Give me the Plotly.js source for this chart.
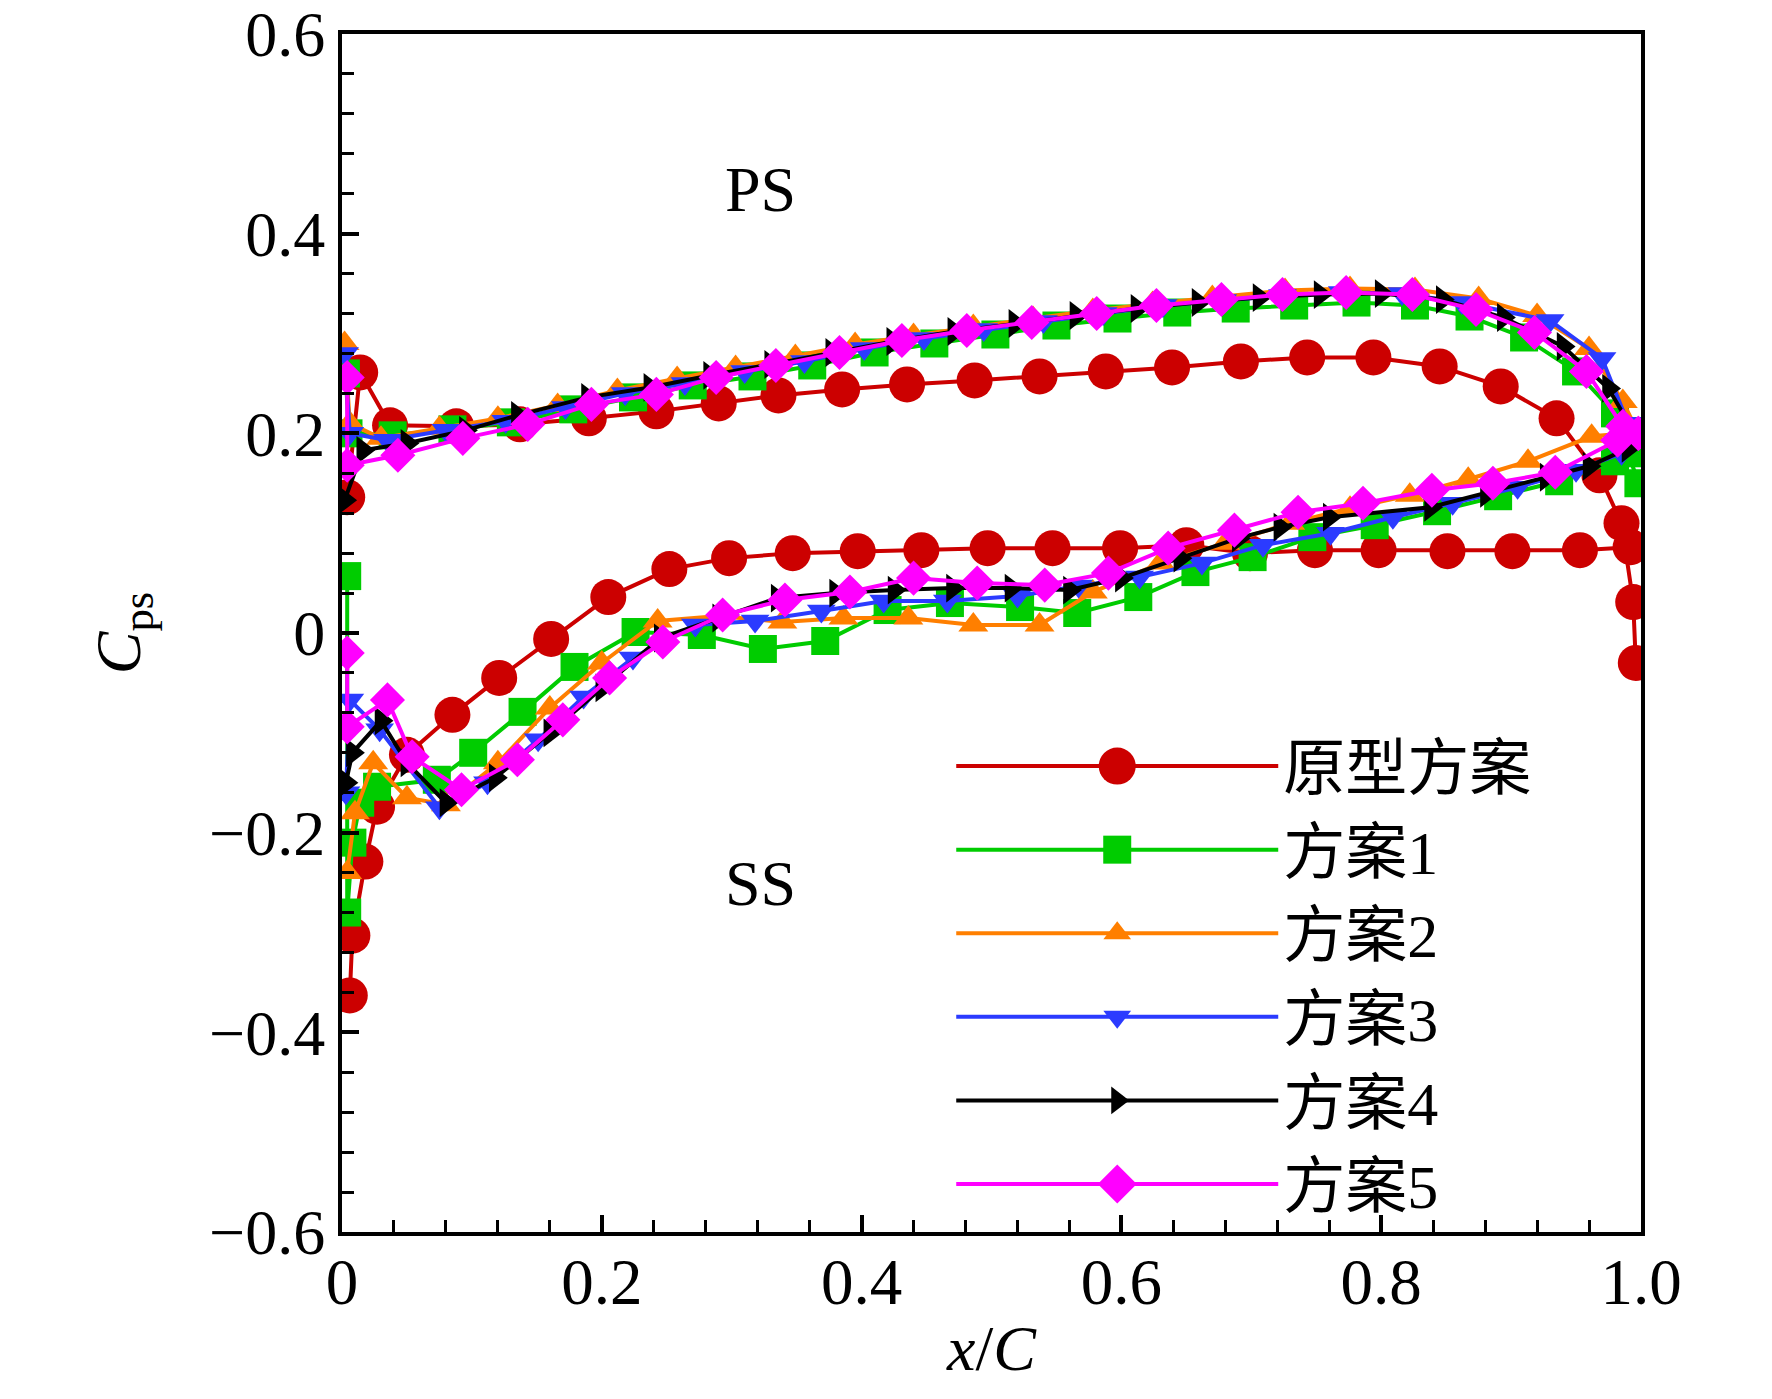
<!DOCTYPE html>
<html>
<head>
<meta charset="utf-8">
<script src="https://cdn.plot.ly/plotly-3.0.1.min.js"></script>
<style>html,body{margin:0;padding:0;background:#fff;}#chart{width:1772px;height:1399px;}</style>
</head>
<body>
<div id="chart"></div>
<script>
// ---- series names ----
const seriesNames = ['原型方案', '方案1', '方案2', '方案3', '方案4', '方案5'];

// ---- 原型方案 (prototype) ----
const protoPSx = [0.004, 0.014, 0.037, 0.088, 0.137, 0.190, 0.242, 0.290, 0.336, 0.385, 0.435, 0.487, 0.537, 0.588, 0.639, 0.692, 0.743, 0.794, 0.845, 0.892, 0.935, 0.968, 0.985, 0.994, 0.996];
const protoPSy = [0.136, 0.261, 0.208, 0.207, 0.209, 0.215, 0.222, 0.230, 0.238, 0.244, 0.249, 0.253, 0.257, 0.262, 0.266, 0.272, 0.276, 0.276, 0.267, 0.247, 0.215, 0.158, 0.110, 0.031, -0.030];
const protoSSx = [0.006, 0.008, 0.018, 0.027, 0.050, 0.085, 0.121, 0.161, 0.205, 0.252, 0.298, 0.347, 0.397, 0.446, 0.497, 0.547, 0.599, 0.650, 0.699, 0.749, 0.798, 0.851, 0.901, 0.953, 0.992];
const protoSSy = [-0.363, -0.303, -0.229, -0.174, -0.122, -0.082, -0.045, -0.006, 0.036, 0.064, 0.075, 0.080, 0.082, 0.083, 0.085, 0.085, 0.085, 0.088, 0.080, 0.083, 0.083, 0.082, 0.082, 0.083, 0.086];

// ---- 方案1 ----
const s1PSx = [0.003, 0.005, 0.039, 0.085, 0.130, 0.178, 0.224, 0.270, 0.316, 0.362, 0.410, 0.456, 0.503, 0.550, 0.597, 0.643, 0.688, 0.733, 0.781, 0.826, 0.868, 0.910, 0.950, 0.980, 0.998];
const s1PSy = [0.260, 0.200, 0.198, 0.204, 0.211, 0.224, 0.236, 0.248, 0.257, 0.268, 0.281, 0.290, 0.299, 0.308, 0.315, 0.321, 0.325, 0.328, 0.331, 0.328, 0.317, 0.296, 0.262, 0.220, 0.150];
const s1SSx = [0.004, 0.004, 0.008, 0.014, 0.027, 0.073, 0.101, 0.139, 0.179, 0.226, 0.277, 0.324, 0.372, 0.420, 0.468, 0.522, 0.566, 0.613, 0.657, 0.701, 0.747, 0.795, 0.843, 0.890, 0.937, 0.980, 0.998];
const s1SSy = [0.057, -0.280, -0.210, -0.170, -0.154, -0.147, -0.120, -0.079, -0.034, 0.001, -0.002, -0.016, -0.008, 0.023, 0.030, 0.026, 0.020, 0.036, 0.061, 0.076, 0.096, 0.108, 0.122, 0.137, 0.152, 0.172, 0.180];

// ---- 方案2 ----
const s2PSx = [0.002, 0.006, 0.030, 0.075, 0.120, 0.166, 0.212, 0.258, 0.303, 0.349, 0.395, 0.440, 0.486, 0.532, 0.578, 0.624, 0.670, 0.726, 0.776, 0.826, 0.875, 0.920, 0.960, 0.986, 0.998];
const s2PSy = [0.290, 0.210, 0.195, 0.205, 0.215, 0.228, 0.243, 0.255, 0.266, 0.277, 0.289, 0.298, 0.307, 0.315, 0.323, 0.330, 0.336, 0.343, 0.345, 0.344, 0.335, 0.318, 0.285, 0.232, 0.200];
const s2SSx = [0.004, 0.010, 0.024, 0.050, 0.080, 0.120, 0.160, 0.200, 0.243, 0.290, 0.339, 0.386, 0.436, 0.486, 0.537, 0.578, 0.630, 0.680, 0.730, 0.776, 0.822, 0.867, 0.913, 0.962, 0.990];
const s2SSy = [-0.240, -0.180, -0.130, -0.165, -0.172, -0.130, -0.075, -0.030, 0.012, 0.017, 0.011, 0.015, 0.015, 0.008, 0.008, 0.041, 0.070, 0.090, 0.110, 0.125, 0.138, 0.154, 0.172, 0.197, 0.200];

// ---- 方案3 ----
const s3PSx = [0.002, 0.006, 0.035, 0.080, 0.126, 0.172, 0.218, 0.264, 0.310, 0.356, 0.402, 0.448, 0.494, 0.540, 0.586, 0.632, 0.678, 0.724, 0.770, 0.816, 0.862, 0.930, 0.970, 0.990];
const s3PSy = [0.280, 0.200, 0.193, 0.203, 0.212, 0.226, 0.240, 0.250, 0.262, 0.272, 0.285, 0.295, 0.304, 0.312, 0.320, 0.328, 0.333, 0.338, 0.341, 0.340, 0.331, 0.313, 0.275, 0.210];
const s3SSx = [0.003, 0.006, 0.029, 0.075, 0.112, 0.151, 0.186, 0.224, 0.272, 0.318, 0.369, 0.417, 0.466, 0.520, 0.567, 0.614, 0.662, 0.709, 0.761, 0.809, 0.855, 0.905, 0.950, 0.985];
const s3SSy = [-0.160, -0.067, -0.097, -0.175, -0.150, -0.107, -0.064, -0.025, 0.008, 0.012, 0.022, 0.032, 0.032, 0.037, 0.047, 0.056, 0.070, 0.088, 0.100, 0.116, 0.130, 0.146, 0.163, 0.180];

// ---- 方案4 ----
const s4PSx = [0.002, 0.016, 0.050, 0.095, 0.135, 0.189, 0.237, 0.283, 0.330, 0.377, 0.424, 0.471, 0.518, 0.565, 0.612, 0.659, 0.706, 0.753, 0.800, 0.847, 0.894, 0.940, 0.975, 0.995];
const s4PSy = [0.133, 0.183, 0.190, 0.203, 0.218, 0.236, 0.246, 0.258, 0.269, 0.281, 0.292, 0.302, 0.310, 0.318, 0.325, 0.331, 0.336, 0.339, 0.340, 0.334, 0.316, 0.287, 0.245, 0.200];
const s4SSx = [0.003, 0.008, 0.030, 0.050, 0.080, 0.118, 0.160, 0.200, 0.245, 0.290, 0.335, 0.380, 0.425, 0.470, 0.515, 0.560, 0.600, 0.645, 0.690, 0.722, 0.760, 0.838, 0.881, 0.927, 0.960, 0.990];
const s4SSy = [-0.150, -0.120, -0.088, -0.130, -0.170, -0.145, -0.100, -0.055, -0.005, 0.015, 0.035, 0.040, 0.043, 0.045, 0.045, 0.043, 0.055, 0.075, 0.095, 0.106, 0.116, 0.126, 0.140, 0.156, 0.167, 0.185];

// ---- 方案5 ----
const s5PSx = [0.004, 0.004, 0.043, 0.093, 0.143, 0.192, 0.242, 0.288, 0.334, 0.383, 0.431, 0.481, 0.531, 0.581, 0.627, 0.677, 0.724, 0.773, 0.824, 0.873, 0.918, 0.958, 0.986, 0.998];
const s5PSy = [0.256, 0.168, 0.178, 0.195, 0.209, 0.229, 0.239, 0.256, 0.268, 0.281, 0.293, 0.303, 0.311, 0.320, 0.328, 0.334, 0.339, 0.341, 0.339, 0.324, 0.301, 0.262, 0.207, 0.200];
const s5SSx = [0.004, 0.004, 0.035, 0.054, 0.092, 0.135, 0.170, 0.206, 0.247, 0.293, 0.341, 0.391, 0.440, 0.489, 0.541, 0.590, 0.636, 0.687, 0.736, 0.786, 0.839, 0.886, 0.934, 0.982, 0.998];
const s5SSy = [-0.020, -0.094, -0.067, -0.124, -0.157, -0.127, -0.087, -0.045, -0.009, 0.018, 0.033, 0.041, 0.055, 0.050, 0.048, 0.060, 0.085, 0.103, 0.121, 0.130, 0.143, 0.150, 0.161, 0.193, 0.200];

// ---- tick labels ----
const xTickVals = [0, 0.2, 0.4, 0.6, 0.8, 1.0];
const xTickText = ['0', '0.2', '0.4', '0.6', '0.8', '1.0'];
const yTickVals = [0.6, 0.4, 0.2, 0, -0.2, -0.4, -0.6];
const yTickText = ['0.6', '0.4', '0.2', '0', '\u22120.2', '\u22120.4', '\u22120.6'];

// ---- styles ----
const colors = ['#CC0000', '#00CC00', '#FF7F00', '#2B3BFF', '#000000', '#FF00FF'];
const symbols = ['circle', 'square', 'triangle-up', 'triangle-down', 'triangle-right', 'diamond'];
const sizes = [36, 28, 26, 25, 25, 27];
const legendMarkerPx = [37, 28, 24, 24, 24, 30];

const psX = [protoPSx, s1PSx, s2PSx, s3PSx, s4PSx, s5PSx];
const psY = [protoPSy, s1PSy, s2PSy, s3PSy, s4PSy, s5PSy];
const ssX = [protoSSx, s1SSx, s2SSx, s3SSx, s4SSx, s5SSx];
const ssY = [protoSSy, s1SSy, s2SSy, s3SSy, s4SSy, s5SSy];

const traces = [];
for (let i = 0; i < seriesNames.length; i++) {
  const x = psX[i].concat([null], ssX[i]);
  const y = psY[i].concat([null], ssY[i]);
  traces.push({
    type: 'scatter', mode: 'lines+markers', name: seriesNames[i],
    x: x, y: y, connectgaps: false,
    line: {color: colors[i], width: 4},
    marker: {symbol: symbols[i], size: sizes[i], color: colors[i], line: {width: 0}}
  });
}

const serif = 'Liberation Serif, Times New Roman, Noto Sans CJK SC, serif';

const layout = {
  width: 1772, height: 1399,
  margin: {l: 342, r: 131, t: 34, b: 167, autoexpand: false},
  paper_bgcolor: '#fff', plot_bgcolor: '#fff',
  font: {family: serif, size: 62, color: '#000'},
  showlegend: true,
  legend: {
    x: 0.469, y: 0.428, xanchor: 'left', yanchor: 'top',
    bgcolor: 'rgba(0,0,0,0)', borderwidth: 0,
    itemwidth: 322, itemsizing: 'trace',
    font: {family: 'Liberation Serif, Noto Sans CJK SC, serif', size: 62, color: '#000'}
  },
  xaxis: {
    range: [0, 1], showgrid: false, zeroline: false,
    showline: true, linewidth: 4, linecolor: '#000', mirror: true,
    ticks: 'inside', ticklen: 17, tickwidth: 4, tickcolor: '#000',
    tickvals: xTickVals, ticktext: xTickText, ticklabelstandoff: -10, ticklabeloverflow: 'allow',
    tickfont: {family: serif, size: 65, color: '#000'},
    minor: {dtick: 0.04, ticks: 'inside', ticklen: 12, tickwidth: 3, tickcolor: '#000', showgrid: false},
    title: {text: '<i>x</i>/<i>C</i>', font: {family: serif, size: 64, color: '#000'}, standoff: 9}
  },
  yaxis: {
    range: [-0.6, 0.6], showgrid: false, zeroline: false,
    showline: true, linewidth: 4, linecolor: '#000', mirror: true,
    ticks: 'inside', ticklen: 17, tickwidth: 4, tickcolor: '#000',
    tickvals: yTickVals, ticktext: yTickText, ticklabeloverflow: 'allow',
    tickfont: {family: serif, size: 64, color: '#000'},
    minor: {dtick: 0.04, ticks: 'inside', ticklen: 12, tickwidth: 3, tickcolor: '#000', showgrid: false},
    title: {text: '<i>C</i><sub>ps</sub>', font: {family: serif, size: 64, color: '#000'}, standoff: 49}
  },
  annotations: [
    {x: 0.322, y: 0.444, xref: 'x', yref: 'y', text: 'PS', showarrow: false, font: {family: serif, size: 64, color: '#000'}},
    {x: 0.322, y: -0.251, xref: 'x', yref: 'y', text: 'SS', showarrow: false, font: {family: serif, size: 64, color: '#000'}}
  ]
};

Plotly.newPlot('chart', traces, layout, {staticPlot: true, displayModeBar: false}).then(function (gd) {
  // enlarge the legend sample markers (Plotly caps them at 16 px)
  const items = gd.querySelectorAll('.legend .traces');
  items.forEach(function (g, i) {
    g.querySelectorAll('.legendpoints path.scatterpts').forEach(function (p) {
      const t = p.getAttribute('transform') || '';
      p.setAttribute('transform', t + ' scale(' + (legendMarkerPx[i] / 16).toFixed(3) + ')');
    });
  });
});
</script>
</body>
</html>
